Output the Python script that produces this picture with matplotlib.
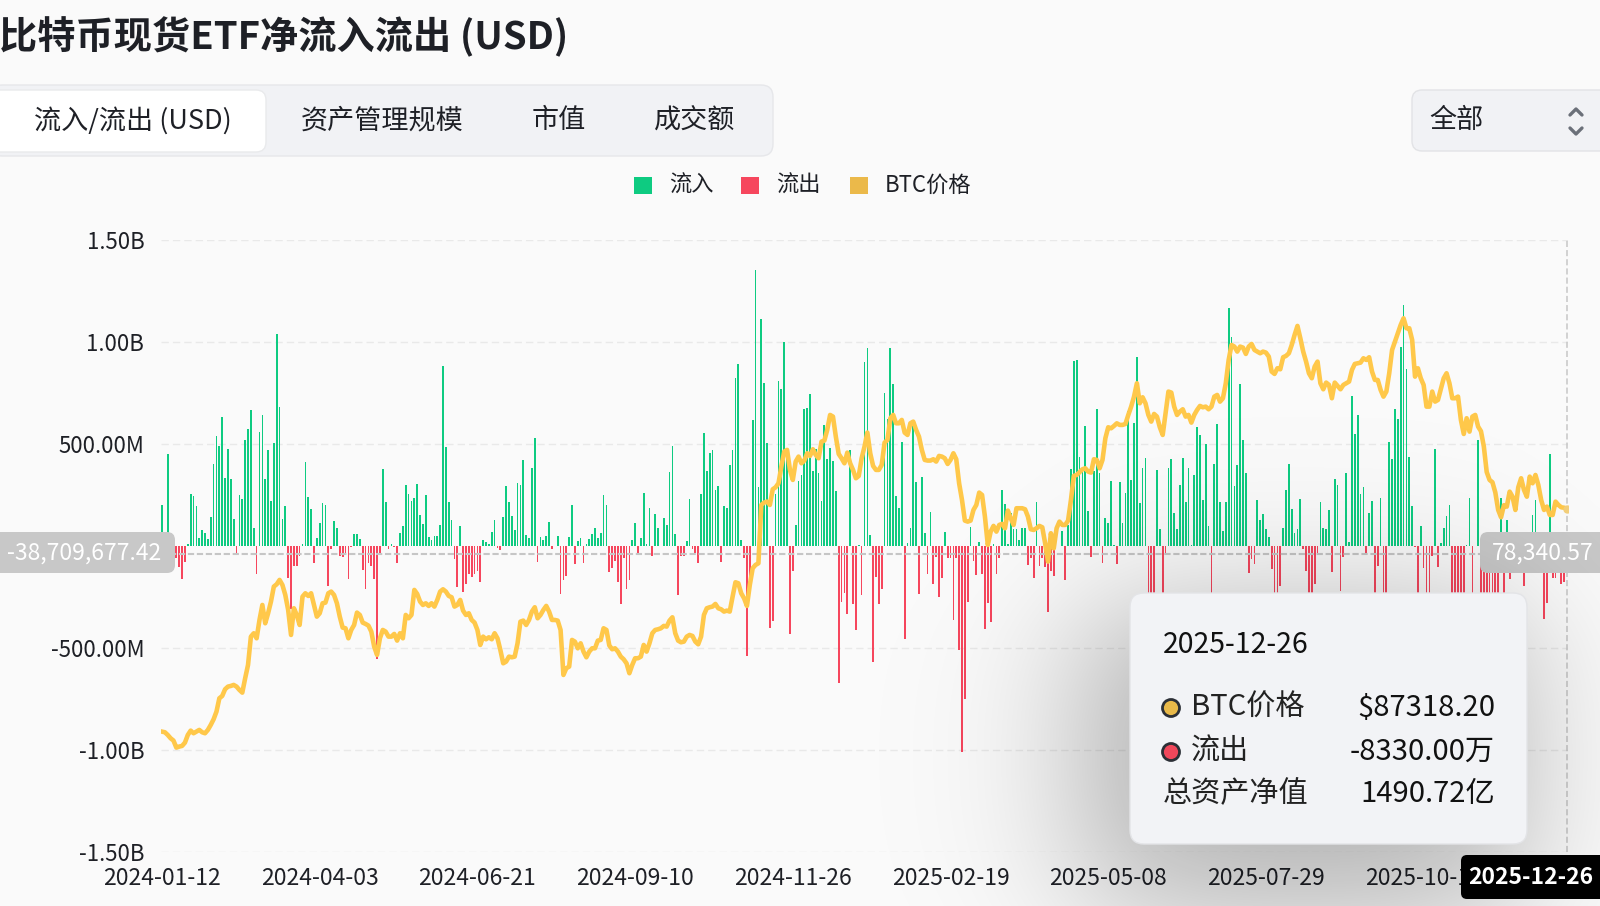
import numpy as np
import matplotlib
matplotlib.use("Agg")
import matplotlib.pyplot as plt
from matplotlib.patches import FancyBboxPatch, Rectangle, Circle

plt.rcParams['font.family'] = ['Noto Sans CJK SC', 'DejaVu Sans']

# --- data ---
# daily net flow, million USD, 2024-01-12 .. 2025-12-26 (trading days)
flows_m = [
    201, 0, 451, 0, -30, -60, -105, -160, -80, 12,
    253, 245, 196, 38, 78, 65, 33, 144, 400, 539,
    490, 634, 335, 474, 327, 134, -33, 248, 229, 518,
    572, 667, 90, -139, 559, 642, 330, 469, 221, 503,
    1039, 680, 131, 196, -155, -310, -98, -98, -49, 11,
    413, 242, 183, -85, 38, 111, 209, 201, -196, -16,
    123, 90, -49, -54, -41, -163, -5, 57, 60, 33,
    -119, -212, -82, -100, -163, -556, -33, 376, 216, -13,
    11, -5, -85, 65, 98, 299, 253, 221, 234, 302,
    152, 106, 248, 44, 28, 47, 47, 103, 882, 485,
    216, 129, -65, -201, 98, -225, -188, -139, -152, -139,
    -123, -175, 31, 20, 11, 70, 129, -8, -21, 144,
    292, 216, 147, 78, 307, 297, 420, 52, 38, 381,
    528, -77, 44, 28, 47, 119, -16, 0, 49, -234,
    -168, -149, 44, 199, -90, 25, 38, -82, 8, 33,
    60, 87, 38, 62, 248, 199, -127, -106, -74, -175,
    -286, -57, -209, -168, 28, 114, -38, 38, 261, 11,
    185, -49, 155, 90, 0, 136, 103, 364, 492, 60,
    -240, -49, -49, 25, 232, -16, -33, -82, 253, 552,
    368, 454, 469, 273, 294, -77, 196, 185, 397, 469,
    822, 890, 31, -57, -539, -163, 617, 1351, 289, 1114,
    797, 505, -400, -368, 253, 809, 771, 1000, 482, -433,
    -123, 101, 319, 348, 672, 678, 743, 368, 474, 359,
    221, 593, 425, 482, 417, 270, -670, -275, -229, -335,
    471, -286, -413, 5, -240, 902, 972, 52, -567, -150,
    -283, -209, 748, 621, 969, 796, 245, 185, 511, -458,
    15, 90, 596, 315, -234, 338, 65, -139, 168, -185,
    -54, -250, -155, 69, -57, -60, -364, -57, -511, -1008,
    -752, -273, 93, -74, -144, 21, -136, -409, -278, -371,
    11, -136, -57, 273, 208, 11, 163, 85, 85, 28,
    90, 90, -93, -60, -158, 216, -98, -60, -103, -324,
    -123, -147, 0, 0, 74, -168, 103, 376, 907, 910,
    436, 384, 588, 172, -54, 368, 670, 359, -85, 139,
    114, 319, 5, -90, 315, 114, 258, 662, 325, 605,
    927, 209, 381, 430, -350, -420, -280, 373, 85, -360,
    -38, 384, 426, 163, 85, 299, 430, 216, 384, 5,
    348, 585, 544, 225, 498, 98, -300, 404, 596, 217,
    74, 216, 1165, 1025, 294, 397, 793, 518, 359, -131,
    -65, -87, 224, 129, 155, 82, 44, -114, -320, -300,
    -196, 90, 275, 400, 180, 65, 82, 229, -13, -123,
    -330, -280, -188, -33, 217, 87, 82, 176, -126, 330,
    297, -221, -54, 359, 21, 735, 551, 641, 257, 289,
    -46, 160, 221, -280, -98, 237, -330, -250, 511, 425,
    670, 621, 977, 1181, 869, 436, 196, -5, -260, 98,
    -106, -320, -280, -49, 474, -103, 16, 90, 147, 201,
    -300, -270, -320, -350, -280, 5, 237, -500, 0, 520,
    -860, -570, -490, -870, -370, -600, -900, 236, -250, 127,
    -160, 69, -40, -30, -25, -196, -60, 0, 150, 225,
    -40, -20, -356, -278, 452, -155, -155, -30, -187, -176,
    -83.3,
]

# BTC close, USD, same days
btc_price = [
    43600, 43480, 42950, 42300, 41850, 40470, 40670, 40800, 41450, 42950,
    43800, 43280, 43600, 43940, 43480, 43280, 43940, 44920, 46030, 47530,
    50140, 50600, 51910, 52430, 52560, 52760, 52430, 51780, 51250, 54060,
    56680, 62230, 62890, 61900, 65500, 68440, 64850, 66810, 69100, 72040,
    72500, 73350, 72360, 70400, 67460, 62560, 67790, 66480, 64520, 70080,
    70730, 70210, 70730, 68440, 66150, 66810, 68770, 68900, 70730, 71060,
    70400, 68770, 66150, 64000, 63870, 61900, 63540, 64520, 66940, 66480,
    64980, 64720, 64390, 63210, 60270, 58640, 61900, 63540, 63210, 62230,
    62230, 62760, 61450, 62890, 61900, 66480, 65830, 66480, 71390, 70600,
    69100, 68440, 68770, 68250, 68770, 68120, 69420, 71060, 71510, 71060,
    70210, 69950, 68120, 68440, 69420, 67330, 66480, 66810, 65500, 64980,
    63540, 60600, 62230, 61710, 62100, 61710, 62890, 61900, 59620, 57000,
    57330, 58310, 58180, 58310, 60920, 65170, 65370, 64520, 65500, 67140,
    67990, 65830, 66480, 67460, 68250, 67140, 65500, 65500, 65370, 63540,
    54720, 56030, 56350, 61580, 61250, 59940, 60920, 59290, 58180, 59290,
    59940, 59940, 61450, 61580, 63870, 63540, 60500, 59750, 59940, 59290,
    58310, 57790, 57000, 55050, 56680, 57990, 57990, 58310, 60600, 59290,
    60920, 62890, 63540, 63670, 63870, 64330, 64200, 65370, 66020, 62890,
    61450, 61120, 61250, 62230, 62560, 62360, 61250, 60730, 62230, 66480,
    67790, 67990, 68120, 68640, 67790, 67590, 67140, 67330, 67140, 70080,
    72890, 72690, 70730, 69750, 68250, 72360, 75630, 76290, 76610, 88050,
    88510, 88710, 88050, 91120, 91520, 92300, 95570, 98510, 98840, 94920,
    92960, 96550, 97530, 96220, 96740, 98180, 97660, 98970, 97860, 97200,
    100470, 100670, 102760, 105700, 105370, 101450, 98050, 97200, 96220, 98310,
    96220, 94920, 93280, 93740, 97200, 99490, 102240, 98180, 95700, 94920,
    94920, 95900, 100270, 100790, 105040, 105700, 104060, 104060, 104720, 102240,
    101780, 104060, 104390, 102760, 101450, 98840, 96880, 96750, 96750, 97010,
    96550, 97660, 97530, 97200, 96090, 96880, 98180, 97010, 92300, 89030,
    84980, 84780, 84980, 87070, 88050, 90470, 90010, 85760, 80210, 82820,
    83940, 82820, 84130, 84330, 83480, 86940, 85440, 84130, 87400, 87400,
    87400, 87200, 85760, 83280, 83150, 83480, 83940, 83670, 80530, 76940,
    82500, 79550, 83480, 84780, 84130, 84130, 84980, 89030, 93740, 93930,
    94460, 95040, 95240, 94590, 94390, 97010, 96880, 95240, 96880, 101120,
    103280, 103080, 103540, 104060, 103740, 103740, 103930, 105700, 107330, 109290,
    111910, 107980, 109160, 107980, 105700, 104390, 105890, 105370, 103280, 101780,
    106030, 110280, 110080, 107330, 105700, 106350, 106810, 105370, 105700, 104190,
    105700, 106680, 107460, 107200, 107330, 106810, 107330, 109290, 109620, 108310,
    108960, 111910, 116480, 119420, 119100, 118120, 119100, 118900, 117660, 119100,
    119620, 118440, 118120, 117790, 118120, 117920, 117140, 114200, 113740, 114850,
    114650, 117010, 117270, 117790, 119420, 121390, 123150, 120730, 118120, 116160,
    113870, 112890, 115180, 116160, 111910, 110730, 112040, 111580, 108970, 112040,
    111380, 110730, 111580, 111910, 112240, 114520, 115700, 115830, 115960, 116810,
    116480, 117010, 114200, 112560, 112560, 110600, 109290, 110280, 113870, 118440,
    120080, 121710, 123350, 124650, 122690, 122690, 120400, 113210, 114850, 112890,
    111580, 107330, 107330, 110280, 108310, 108640, 110730, 112890, 113870, 111910,
    108970, 108970, 109290, 104710, 101970, 105050, 102430, 105370, 105700, 103410,
    102500, 99500, 94500, 92950, 92500, 90500, 87070, 85630, 88000, 87720,
    90660, 89670, 87070, 91500, 93280, 91000, 89670, 93600, 92300, 93930,
    91970, 89000, 87070, 87720, 86090, 86090, 88700, 88050, 87590, 87500,
    87318.20,
]

date_labels = ['2024-01-12', '2024-04-03', '2024-06-21', '2024-09-10', '2024-11-26',
               '2025-02-19', '2025-05-08', '2025-07-29', '2025-10-15']
last_date = '2025-12-26'
y_ticks = [1.5e9, 1.0e9, 5e8, -5e8, -1.0e9, -1.5e9]

cross_flow = -38709677.42
cross_price = 78340.57
tip_rows = [('BTC价格', '$87318.20', '#e9b949'),
            ('流出', '-8330.00万', '#f0475b')]
tip_total = ('总资产净值', '1490.72亿')

GREEN = '#0ecb81'
RED = '#f6465d'
LINE = '#ffc84a'
BG = '#fafafa'
TXT = '#1e2026'

flows = np.array(flows_m) * 1e6
idx = np.arange(len(flows))
W, H = 1600, 906

fig = plt.figure(figsize=(16, 9.06), dpi=100, facecolor=BG)

# --- main chart ---
ax = fig.add_axes([161 / W, 54 / H, 1407 / W, 612 / H])
ax.set_facecolor('none')
ax.bar(idx, flows, width=0.6, color=np.where(flows >= 0, GREEN, RED), linewidth=0, zorder=2)
ax.set_xlim(-0.35, len(flows) - 1 + 0.35)
ax.set_ylim(-1.5e9, 1.5e9)
for v in y_ticks:
    ax.axhline(v, color='#e9e9e9', lw=1.0, ls=(0, (5.3, 2.9)), zorder=0)


def fmt(v):
    if abs(v) >= 1e9:
        return f'{v / 1e9:.2f}B'
    return f'{v / 1e6:.2f}M'


ax.set_yticks(y_ticks)
ax.set_yticklabels([fmt(v) for v in y_ticks])
ax.set_xticks(list(range(0, 55 * len(date_labels), 55)))
ax.set_xticklabels(date_labels)
ax.tick_params(axis='y', length=0, pad=12, labelsize=16, labelcolor=TXT)
ax.tick_params(axis='x', length=0, pad=10.5, labelsize=16.5, labelcolor=TXT)
for s in ax.spines.values():
    s.set_visible(False)

# crosshair
ax.axhline(cross_flow, color='#c6c6c6', lw=1.5, ls=(0, (3, 1.3)), zorder=4)
ax.axvline(len(flows) - 1, color='#c6c6c6', lw=1.1, ls=(0, (4, 2)), zorder=4)

ax2 = ax.twinx()
ax2.set_ylim(20000, 140000)
ax2.plot(idx, btc_price, color=LINE, lw=3.3, solid_joinstyle='round', zorder=3)
ax2.plot(idx[-1], btc_price[-1], 'o', ms=5, color='#f3cf7a', zorder=4)
ax2.axis('off')

# --- overlay in pixel coordinates ---
ov = fig.add_axes([0, 0, 1, 1], zorder=10)
ov.set_xlim(0, W)
ov.set_ylim(H, 0)
ov.axis('off')
ov.patch.set_alpha(0)

# title
ov.text(-1, 37, '比特币现货ETF净流入流出 (USD)', fontsize=27.5, fontweight='bold',
        color=TXT, va='center', ha='left')

# tabs
ov.add_patch(FancyBboxPatch((-10, 85), 783, 71, boxstyle='round,pad=0,rounding_size=12',
                            fc='#f1f2f5', ec='#e6e7ea', lw=1))
ov.add_patch(FancyBboxPatch((-10, 90), 276, 62, boxstyle='round,pad=0,rounding_size=10',
                            fc='white', ec='#e9eaec', lw=1))
for label, cx in [('流入/流出 (USD)', 133), ('资产管理规模', 382), ('市值', 559), ('成交额', 695)]:
    ov.text(cx, 121, label, fontsize=19.5, color=TXT, ha='center', va='center')

# dropdown
ov.add_patch(FancyBboxPatch((1412, 90), 210, 61, boxstyle='round,pad=0,rounding_size=10',
                            fc='#f1f2f5', ec='#e2e3e6', lw=1))
ov.text(1429, 121, '全部', fontsize=19.5, color=TXT, ha='left', va='center')
ov.plot([1570, 1576, 1582], [115, 109, 115], color='#6b7079', lw=2.4, solid_capstyle='round')
ov.plot([1570, 1576, 1582], [128, 134, 128], color='#6b7079', lw=2.4, solid_capstyle='round')

# legend
for x0, col, label in [(634, GREEN, '流入'), (741, RED, '流出'), (850, '#ebb94a', 'BTC价格')]:
    ov.add_patch(Rectangle((x0, 177), 18, 17, fc=col, ec='none'))
    ov.text(x0 + 35, 185.5, label, fontsize=16, color=TXT, ha='left', va='center')

# crosshair labels
ov.add_patch(FancyBboxPatch((-10, 532), 185, 41, boxstyle='round,pad=0,rounding_size=8',
                            fc='#c8c8c8', ec='none'))
ov.text(84, 553, f'{cross_flow:,.2f}', fontsize=16.5, color='white', ha='center', va='center')
ov.add_patch(FancyBboxPatch((1480, 532), 130, 41, boxstyle='round,pad=0,rounding_size=8',
                            fc='#c8c8c8', ec='none'))
ov.text(1543, 553, f'{cross_price:,.2f}', fontsize=16.5, color='white', ha='center', va='center')

# tooltip shadow
tx0, tx1, ty0, ty1 = 1130, 1527, 593, 844
yy, xx = np.mgrid[0:H, 0:W]


def soft(t, s):
    return 1.0 / (1.0 + np.exp(-t / s))


sh = soft(xx - (tx0 - 45), 48) * soft((tx1 - 10) - xx, 45) * \
    soft(yy - (ty0 + 20), 45) * soft((ty1 + 60) - yy, 48)
rgba = np.zeros((H, W, 4))
rgba[..., 3] = 0.32 * sh
ov.imshow(rgba, extent=(0, W, H, 0), aspect='auto', interpolation='bilinear', zorder=1)
ov.set_xlim(0, W)
ov.set_ylim(H, 0)

# tooltip box
ov.add_patch(FancyBboxPatch((tx0, ty0), tx1 - tx0, ty1 - ty0,
                            boxstyle='round,pad=0,rounding_size=14',
                            fc='#f2f3f6', ec='#e3e4e7', lw=1, zorder=2))
ov.text(1163, 645, last_date, fontsize=20.5, color='#111111', ha='left', va='center', zorder=3)
for k, (name, val, col) in enumerate(tip_rows):
    yrow = 708 + 44 * k
    ov.add_patch(Circle((1171, yrow), 8.5, fc=col, ec='#2b2f36', lw=2, zorder=3))
    ov.text(1191, yrow, name, fontsize=21, color='#222222', ha='left', va='center', zorder=3)
    ov.text(1495, yrow, val, fontsize=21, color='#111111', ha='right', va='center', zorder=3)
ov.text(1163, 794, tip_total[0], fontsize=21, color='#222222', ha='left', va='center', zorder=3)
ov.text(1495, 794, tip_total[1], fontsize=21, color='#111111', ha='right', va='center', zorder=3)

# x crosshair label
ov.add_patch(FancyBboxPatch((1461, 855), 160, 44, boxstyle='round,pad=0,rounding_size=6',
                            fc='black', ec='none', zorder=4))
ov.text(1531, 877, last_date, fontsize=16.5, fontweight='bold', color='white',
        ha='center', va='center', zorder=5)

fig.savefig('out.png', dpi=100, facecolor=BG)
